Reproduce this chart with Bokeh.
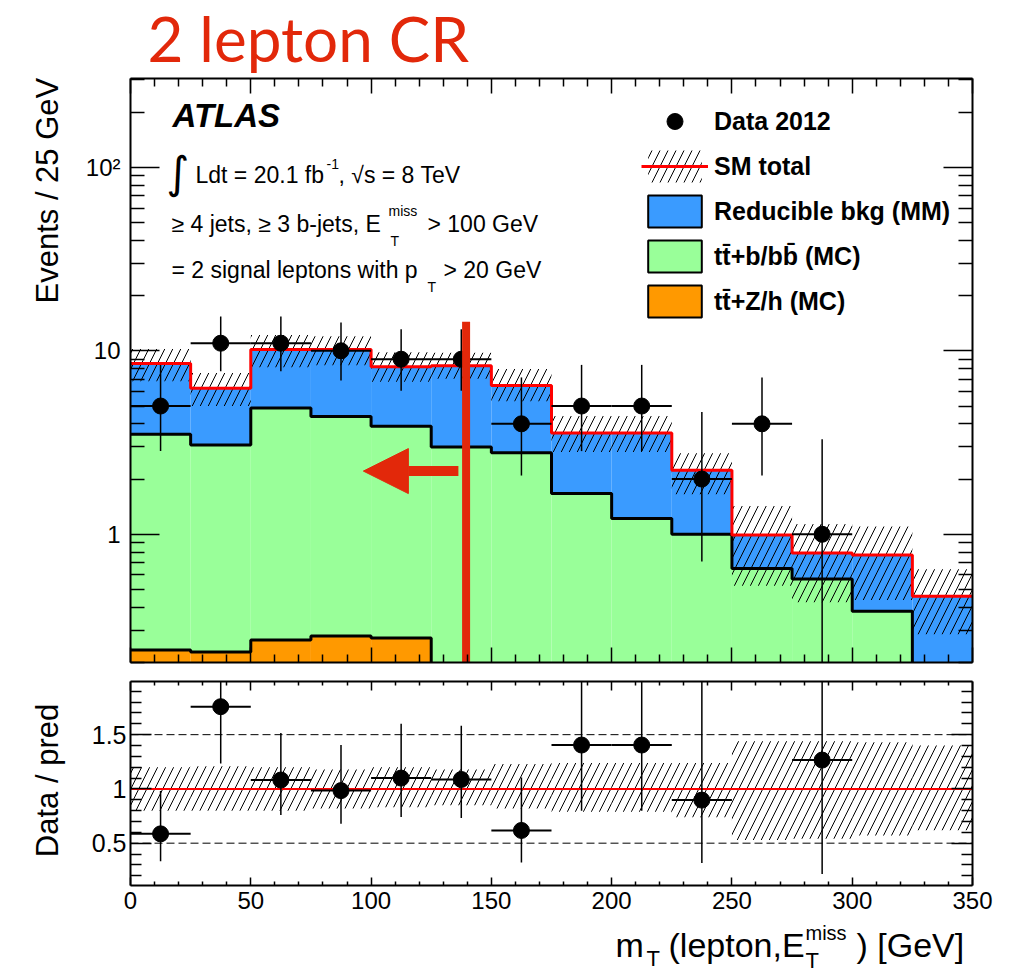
import math
import numpy as np
from bokeh.plotting import figure
from bokeh.layouts import column, row
from bokeh.models import (Range1d, FixedTicker, LinearAxis, LogAxis, Label, Legend,
                          LegendItem, Span, Arrow, NormalHead, CustomJSTickFormatter)
from bokeh.embed import file_html
from bokeh.resources import INLINE

# ---------------- data ----------------
bin_edges = [0, 25, 50, 75, 100, 125, 150, 175, 200, 225, 250, 275, 300, 325, 350]
data_2012 = [5, 11, 11, 10, 9, 9, 4, 5, 5, 2, 4, 1, 0, 0]
data_lo = [2.84, 7.73, 7.73, 6.89, 6.06, 6.06, 2.09, 2.84, 2.84, 0.71, 2.09, 0.17, 0, 0]
data_hi = [8.38, 15.40, 15.40, 14.27, 13.10, 13.10, 7.16, 8.38, 8.38, 4.64, 7.16, 3.30, 0, 0]
ttZh_mc = [0.234, 0.228, 0.265, 0.279, 0.272, 0.12, 0.10, 0.08, 0.06, 0.05, 0.04, 0.03, 0.02, 0.01]
ttbb_mc = [3.28, 2.84, 4.61, 4.10, 3.61, 2.87, 2.68, 1.59, 1.16, 0.95, 0.61, 0.54, 0.36, 0.01]
reducible_mm = [5.02, 3.19, 5.29, 5.78, 4.30, 5.29, 3.70, 1.89, 2.34, 1.23, 0.34, 0.22, 0.39, 0.44]
unc_up = [1.20, 1.21, 1.20, 1.18, 1.20, 1.18, 1.23, 1.24, 1.24, 1.24, 1.44, 1.44, 1.43, 1.40]
unc_dn = [0.80, 0.80, 0.80, 0.82, 0.83, 0.85, 0.82, 0.79, 0.79, 0.74, 0.53, 0.54, 0.57, 0.62]

x_ticks = [0, 50, 100, 150, 200, 250, 300, 350]
y_ticks_main = [1, 10, 100]
y_ticks_ratio = [0.5, 1.0, 1.5]
cut_value = 139.5          # hand-drawn red cut marker
cut_top = 14.4
arrow_from, arrow_to, arrow_y = 136.3, 96.8, 2.21

# ---------------- colours / layout ----------------
BLUE = "#3a9bff"
GREEN = "#99ff99"
ORANGE = "#ff9900"
ANN = "#e2280a"
FONT = "Liberation Sans"
W, H = 1018, 972
LW = 80                    # left text strip
RW = W - LW
FL, FR = 130, 972          # frame left/right (page px)
H0 = 76                    # title strip
H1 = 672 - H0
H2 = 248
H3 = H - H0 - H1 - H2
TOP1, BOT1 = 78, 662
TOP2, BOT2 = 681, 885
HATCH = 16
BL = 0.37                  # label anchor sits this many em above the baseline

edges = np.array(bin_edges, dtype=float)
left, right = edges[:-1], edges[1:]
centers = 0.5 * (left + right)
ttz = np.array(ttZh_mc)
s_green = ttz + np.array(ttbb_mc)
total = s_green + np.array(reducible_mm)
dat = np.array(data_2012, dtype=float)
dlo = np.array(data_lo)
dhi = np.array(data_hi)
has = dat > 0
nan = [float("nan")]


def step_y(v):
    return list(v) + [v[-1]]


def blank(ax):
    ax.formatter = CustomJSTickFormatter(code="return ''")
    ax.major_label_text_font_size = "0px"
    ax.major_label_standoff = 0


def style(ax, maj, mnr):
    ax.axis_line_width = 2
    ax.axis_line_color = "black"
    ax.major_tick_in = maj
    ax.major_tick_out = 0
    ax.minor_tick_in = mnr
    ax.minor_tick_out = 0
    ax.major_tick_line_width = 1.5
    ax.minor_tick_line_width = 1.5
    ax.major_tick_line_color = "black"
    ax.minor_tick_line_color = "black"
    ax.major_label_text_font = FONT
    ax.major_label_text_color = "black"


def put(fig, fbottom, text, x, y, size, font=FONT, fstyle="normal", color="black",
        baseline=True):
    """x, y: page pixels; y is the text baseline when baseline=True, else the middle."""
    yy = y - BL * size if baseline else y
    fig.add_layout(Label(x=x - FL, y=fbottom - yy, x_units="screen", y_units="screen",
                         text=text, text_font=font, text_font_size=f"{size}px",
                         text_font_style=fstyle, text_color=color, text_align="left",
                         text_baseline="middle"))


def text_fig(w, h, xa, xb, y0):
    """Text-only figure whose data coordinates are page pixels (frame spans xa..xb)."""
    f = figure(width=w, height=h, x_range=Range1d(xa, xb), y_range=Range1d(y0 + h, y0),
               title=None, output_backend="svg", toolbar_location=None, x_axis_location=None,
               y_axis_location=None, min_border=0)
    f.grid.visible = False
    f.outline_line_color = None
    f.background_fill_alpha = 0
    f.border_fill_alpha = 0
    return f


def tput(fig, text, x, y, size, font=FONT, fstyle="normal", color="black",
         align="left", baseline=True, angle=0.0):
    yy = y - BL * size if baseline else y
    fig.add_layout(Label(x=x, y=yy, text=text, text_font=font, text_font_size=f"{size}px",
                         text_font_style=fstyle, text_color=color, text_align=align,
                         text_baseline="middle", angle=angle))


xt = FixedTicker(ticks=x_ticks, minor_ticks=[v for v in range(0, 351, 10) if v % 50])
minor_log = [0.2, 0.3, 0.4, 0.5, 0.6, 0.7, 0.8, 0.9] + list(range(2, 10)) + list(range(20, 100, 10)) + [200, 300]
yt = FixedTicker(ticks=y_ticks_main, minor_ticks=minor_log)

# ---------------- main panel ----------------
p1 = figure(width=RW, height=H1, x_range=Range1d(0, 350), y_range=Range1d(0.2, 305),
            y_axis_type="log", title=None, output_backend="svg", toolbar_location=None,
            min_border_left=FL - LW, min_border_right=W - FR, min_border_top=TOP1 - H0,
            min_border_bottom=H0 + H1 - BOT1)
p1.grid.visible = False
p1.outline_line_color = None

p1.quad(left=left, right=right, bottom=0.001, top=ttz, fill_color=ORANGE, line_color=None)
p1.quad(left=left, right=right, bottom=ttz, top=s_green, fill_color=GREEN, line_color=None)
p1.quad(left=left, right=right, bottom=s_green, top=total, fill_color=BLUE, line_color=None)
p1.step(x=edges, y=step_y(ttz), mode="after", line_color="black", line_width=3)
p1.step(x=edges, y=step_y(s_green), mode="after", line_color="black", line_width=3)
r_band = p1.quad(left=left, right=right, bottom=total * np.array(unc_dn), top=total * np.array(unc_up),
                 fill_color=None, hatch_pattern="/", hatch_color="black", hatch_scale=HATCH,
                 hatch_weight=1, line_color=None)
r_tot = p1.step(x=edges, y=step_y(total), mode="after", line_color="#ff0000", line_width=3)

p1.segment(x0=centers[has], x1=centers[has], y0=dlo[has], y1=dhi[has], line_color="black", line_width=1.5)
p1.segment(x0=left[has], x1=right[has], y0=dat[has], y1=dat[has], line_color="black", line_width=2)
r_pts = p1.scatter(centers[has], dat[has], size=16, color="black")

# red annotation
p1.segment(x0=[cut_value], x1=[cut_value], y0=[0.2], y1=[cut_top], line_color=ANN, line_width=8)
p1.add_layout(Arrow(end=NormalHead(size=45, fill_color=ANN, line_color=ANN, line_width=1),
                    x_start=arrow_from, y_start=arrow_y, x_end=arrow_to, y_end=arrow_y,
                    line_color=ANN, line_width=10))

# axes
p1.xaxis.ticker = xt
p1.yaxis.ticker = yt
style(p1.xaxis[0], 15, 8)
blank(p1.xaxis[0])
style(p1.yaxis[0], 29, 14)
p1.yaxis[0].major_label_overrides = {1: "1", 10: "10", 100: "10²"}
p1.yaxis[0].major_label_text_font_size = "24px"
p1.yaxis[0].major_label_standoff = 10
ax_top = LinearAxis(ticker=xt)
style(ax_top, 15, 8)
blank(ax_top)
p1.add_layout(ax_top, "above")
ax_right = LogAxis(ticker=yt)
style(ax_right, 29, 14)
blank(ax_right)
p1.add_layout(ax_right, "right")

# legend (proxy renderers with NaN coordinates: drawn only in the legend)
r_blu = p1.quad(left=nan, right=nan, top=nan, bottom=nan, fill_color=BLUE, line_color="black", line_width=2)
r_grn = p1.quad(left=nan, right=nan, top=nan, bottom=nan, fill_color=GREEN, line_color="black", line_width=2)
r_org = p1.quad(left=nan, right=nan, top=nan, bottom=nan, fill_color=ORANGE, line_color="black", line_width=2)
legend = Legend(items=[
    LegendItem(label="Data 2012", renderers=[r_pts]),
    LegendItem(label="SM total", renderers=[r_band, r_tot]),
    LegendItem(label="Reducible bkg (MM)", renderers=[r_blu]),
    LegendItem(label="tt\u0304+b/bb\u0304 (MC)", renderers=[r_grn]),
    LegendItem(label="tt\u0304+Z/h (MC)", renderers=[r_org]),
], location=(511, BOT1 - 321), glyph_width=67, glyph_height=40, spacing=5, padding=0,
    margin=0, label_standoff=6, label_text_font=FONT, label_text_font_style="bold",
    label_text_font_size="25px", label_text_color="black", border_line_color=None,
    background_fill_alpha=0)
p1.add_layout(legend)

# texts inside the main frame (page-pixel baselines)
put(p1, BOT1, "ATLAS", 172, 127, 33, fstyle="bold italic")
put(p1, BOT1, "\u222b", 166, 172, 44, font="DejaVu Sans", baseline=False)
put(p1, BOT1, "Ldt = 20.1 fb", 195, 183, 23)
put(p1, BOT1, "-1", 326, 169, 14)
put(p1, BOT1, ", \u221as = 8 TeV", 338, 183, 23)
put(p1, BOT1, "\u2265 4 jets, \u2265 3 b-jets, E", 171, 232, 23)
put(p1, BOT1, "miss", 388, 216, 14)
put(p1, BOT1, "T", 390, 246, 14)
put(p1, BOT1, "> 100 GeV", 427, 232, 23)
put(p1, BOT1, "= 2 signal leptons with p", 171, 278, 23)
put(p1, BOT1, "T", 427, 292, 14)
put(p1, BOT1, "> 20 GeV", 443, 278, 23)

# ---------------- ratio panel ----------------
p2 = figure(width=RW, height=H2, x_range=p1.x_range, y_range=Range1d(0.11, 1.99),
            title=None, output_backend="svg", toolbar_location=None,
            min_border_left=FL - LW, min_border_right=W - FR, min_border_top=TOP2 - H0 - H1,
            min_border_bottom=H0 + H1 + H2 - BOT2)
p2.grid.visible = False
p2.outline_line_color = None

p2.quad(left=left, right=right, bottom=unc_dn, top=unc_up, fill_color=None, hatch_pattern="/",
        hatch_color="black", hatch_scale=HATCH, hatch_weight=1, line_color=None)
for v in (y_ticks_ratio[0], y_ticks_ratio[2]):
    p2.add_layout(Span(location=v, dimension="width", line_color="black", line_width=1,
                       line_dash="8 4", level="underlay"))
p2.segment(x0=[bin_edges[0]], x1=[bin_edges[-1]], y0=[y_ticks_ratio[1]], y1=[y_ticks_ratio[1]],
           line_color="#ff0000", line_width=2)
ratio = dat / total
p2.segment(x0=centers[has], x1=centers[has], y0=(dlo / total)[has], y1=(dhi / total)[has],
           line_color="black", line_width=1.5)
p2.segment(x0=left[has], x1=right[has], y0=ratio[has], y1=ratio[has], line_color="black", line_width=2)
p2.scatter(centers[has], ratio[has], size=16, color="black")

yt2 = FixedTicker(ticks=y_ticks_ratio, minor_ticks=[round(0.1 * i, 1) for i in range(2, 20) if i % 5])
p2.xaxis.ticker = xt
p2.yaxis.ticker = yt2
style(p2.xaxis[0], 8, 4)
p2.xaxis[0].major_label_text_font_size = "24px"
p2.xaxis[0].major_label_standoff = 6
style(p2.yaxis[0], 21, 11)
p2.yaxis[0].major_label_overrides = {0.5: "0.5", 1.0: "1", 1.5: "1.5"}
p2.yaxis[0].major_label_text_font_size = "25px"
p2.yaxis[0].major_label_standoff = 4
ax2_top = LinearAxis(ticker=xt)
style(ax2_top, 9, 4)
blank(ax2_top)
p2.add_layout(ax2_top, "above")
ax2_right = LinearAxis(ticker=yt2)
style(ax2_right, 21, 11)
blank(ax2_right)
p2.add_layout(ax2_right, "right")

# ---------------- text strips outside the frames ----------------
# (plots stacked in a column get their frames aligned, so these strips map FL..FR)
t_left = text_fig(LW, H, 0, LW, 0)
tput(t_left, "Events / 25 GeV", 47, 303, 31, baseline=False, angle=math.pi / 2)
tput(t_left, "Data / pred", 47, 780, 31, align="center", baseline=False, angle=math.pi / 2)

t_top = text_fig(RW, H0, FL, FR, 0)
tput(t_top, "2 lepton CR", 147, 60, 62, font="Lato", color=ANN)

t_bot = text_fig(RW, H3, FL, FR, H - H3)
tput(t_bot, "m", 615, 957, 34)
tput(t_bot, "T", 646, 966, 22)
tput(t_bot, "(lepton,E", 668, 957, 34)
tput(t_bot, "miss", 805, 940, 20)
tput(t_bot, "T", 805, 968, 22)
tput(t_bot, ") [GeV]", 856, 957, 34)

layout = row(t_left, column(t_top, p1, p2, t_bot, spacing=0), spacing=0)
open("out.html", "w").write(file_html(layout, INLINE))
